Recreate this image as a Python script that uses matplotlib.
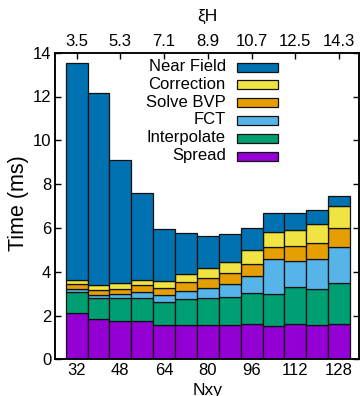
import matplotlib
matplotlib.use("Agg")
import matplotlib.pyplot as plt
from matplotlib.patches import Rectangle
import numpy as np

plt.rcParams['font.family'] = ['Liberation Sans', 'DejaVu Sans']

# ---- data ----
nxy = [32, 40, 48, 56, 64, 72, 80, 88, 96, 104, 112, 120, 128]
xi_ticks = [32, 48, 64, 80, 96, 112, 128]
xi_labels = ["3.5", "5.3", "7.1", "8.9", "10.7", "12.5", "14.3"]

spread      = [2.10, 1.83, 1.77, 1.73, 1.56, 1.56, 1.58, 1.55, 1.59, 1.52, 1.61, 1.56, 1.59]
interpolate = [0.96, 0.99, 1.03, 1.09, 1.06, 1.18, 1.21, 1.31, 1.46, 1.48, 1.71, 1.67, 1.88]
fct         = [0.14, 0.10, 0.17, 0.26, 0.30, 0.40, 0.45, 0.56, 0.75, 1.58, 1.16, 1.36, 1.68]
solve_bvp   = [0.22, 0.23, 0.26, 0.30, 0.35, 0.41, 0.48, 0.53, 0.56, 0.57, 0.70, 0.74, 0.83]
correction  = [0.18, 0.23, 0.25, 0.22, 0.29, 0.36, 0.43, 0.51, 0.61, 0.67, 0.71, 0.85, 1.00]
near_field  = [9.95, 8.79, 5.60, 3.98, 2.39, 1.85, 1.46, 1.24, 1.01, 0.86, 0.79, 0.65, 0.49]

series = [
    ("Spread", spread, "#9400d3"),
    ("Interpolate", interpolate, "#009e73"),
    ("FCT", fct, "#56b4e9"),
    ("Solve BVP", solve_bvp, "#e69f00"),
    ("Correction", correction, "#f0e442"),
    ("Near Field", near_field, "#0072b2"),
]

W, H = 361, 396
fig = plt.figure(figsize=(W / 100, H / 100), dpi=100)
L, R, T, B = 55.3, 359.0, 52.7, 359.3
ax = fig.add_axes([L / W, 1 - B / H, (R - L) / W, (B - T) / H])

bottom = np.zeros(len(nxy))
for name, vals, col in series:
    ax.bar(nxy, vals, width=8, bottom=bottom, color=col, edgecolor="#111111",
           linewidth=0.9, zorder=3)
    bottom += np.array(vals)

ax.set_xlim(24.2, 135.3)
ax.set_ylim(0, 14)
ax.set_xticks(xi_ticks)
ax.set_yticks(np.arange(0, 15, 2))
ax.tick_params(axis='both', direction='in', length=4.5, width=1.0, labelsize=12)
ax.tick_params(axis='x', pad=2.5)
ax.tick_params(axis='y', pad=3, right=True)
for s in ax.spines.values():
    s.set_linewidth(1.1)
    s.set_zorder(4)

ax2 = ax.twiny()
ax2.set_xlim(ax.get_xlim())
ax2.set_xticks(xi_ticks)
ax2.set_xticklabels(xi_labels)
ax2.tick_params(axis='x', direction='in', length=4.5, width=1.0, labelsize=12, pad=3)
for s in ax2.spines.values():
    s.set_linewidth(1.1)

fig.text(18.3 / W, 1 - 203.3 / H, "Time (ms)", rotation=90, ha='center', va='center', fontsize=15.5)
fig.text(207.2 / W, 1 - 394.5 / H, "Nxy", ha='center', va='baseline', fontsize=12.5)
fig.text(207.2 / W, 1 - 20.7 / H, "ξH", ha='center', va='baseline', fontsize=12.5)

# gnuplot-style key: right-aligned text then colour box
rows_y = [67.0, 84.8, 102.6, 120.4, 138.2, 156.0]
order = ["Near Field", "Correction", "Solve BVP", "FCT", "Interpolate", "Spread"]
cols = {n: c for n, _, c in series}
for name, py in zip(order, rows_y):
    fig.text(225.7 / W, 1 - (py + 4) / H, name, ha='right', va='baseline', fontsize=12)
    fig.patches.append(Rectangle((237.3 / W, 1 - (py + 4.5) / H), 41 / W, 9 / H,
                                 transform=fig.transFigure, facecolor=cols[name],
                                 edgecolor="#111111", linewidth=0.9, figure=fig))

fig.savefig("out.png", dpi=100)
